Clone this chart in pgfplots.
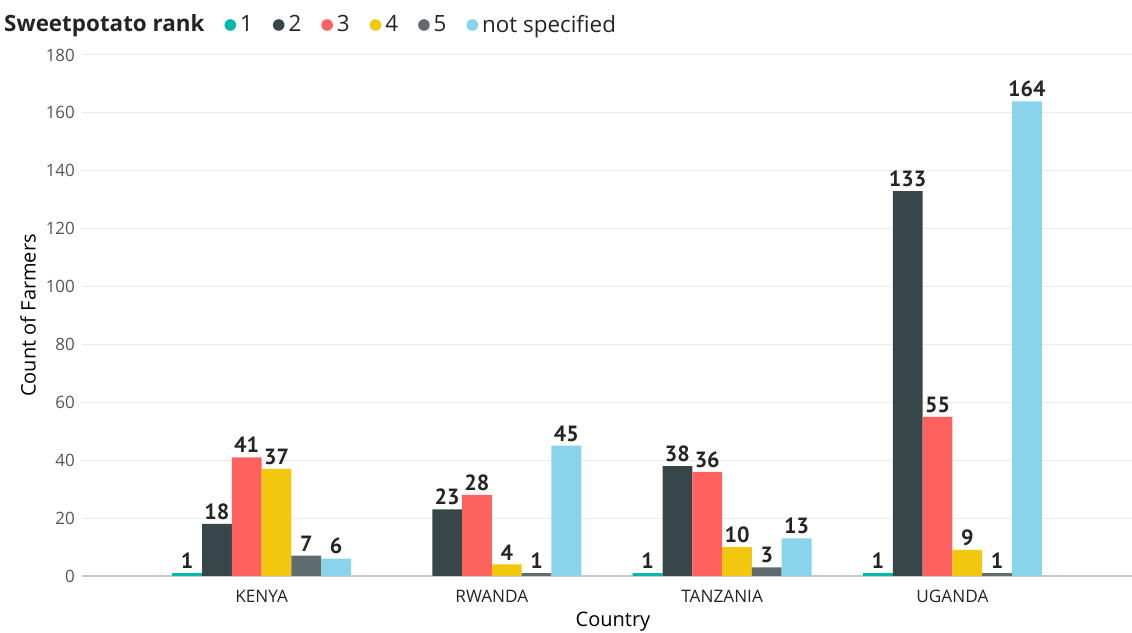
\documentclass[border=0pt]{standalone}
\usepackage{pgfplots}
\pgfplotsset{compat=1.18}
\usepackage{fontspec}
\setmainfont{Open Sans}
\newfontfamily\labelfont{PT Sans}
\definecolor{c1}{HTML}{01B8AA}
\definecolor{c2}{HTML}{374649}
\definecolor{c3}{HTML}{FD625E}
\definecolor{c4}{HTML}{F2C80F}
\definecolor{c5}{HTML}{5F6B6D}
\definecolor{c6}{HTML}{8AD4EB}
\definecolor{txt}{HTML}{252423}
\definecolor{tick}{HTML}{555555}
\begin{document}
\begin{tikzpicture}
\useasboundingbox (0,0) rectangle (566pt,316.5pt);
\begin{axis}[
  at={(41pt,28.5pt)}, anchor=south west,
  scale only axis, width=525pt, height=260.5pt,
  ybar=0pt, bar width=14.9pt,
  xmin=-0.78, xmax=3.78, ymin=0, ymax=180,
  xtick={0,1,2,3},
  xticklabels={KENYA,RWANDA,TANZANIA,UGANDA},
  ytick={20,40,...,180},
  extra y ticks={0}, extra y tick labels={0},
  extra y tick style={grid style={color=black!22, line width=0.6pt}},
  ymajorgrids, grid style={color=black!8, line width=0.5pt},
  major tick length=0pt,
  axis line style={draw=none},
  /pgf/number format/assume math mode=true,
  tick label style={font=\fontsize{8.5}{10}\selectfont},
  yticklabel style={color=tick},
  xticklabel style={color=txt, yshift=-3.5pt, font=\fontsize{8.6}{10}\selectfont},
  xlabel={Country}, ylabel={Count of Farmers},
  label style={font=\fontsize{11}{12}\selectfont, color=txt},
  every axis x label/.style={at={([yshift=-23pt,xshift=3pt]axis description cs:0.5,0)}, anchor=center},
  every axis y label/.style={at={([xshift=-27pt]axis description cs:0,0.5)}, anchor=center, rotate=90},
  nodes near coords,
  every node near coord/.append style={font=\labelfont\bfseries\fontsize{11}{12}\selectfont, color=txt, inner sep=2pt},
  legend columns=-1,
  legend style={draw=none, fill=none, at={(-0.063,1.0576)}, anchor=west, inner sep=0pt,
    font=\fontsize{11.2}{12}\selectfont, text=txt,
    /tikz/every even column/.append style={column sep=8pt}},
  legend image code/.code={\fill[#1, draw=none] (4pt,0pt) circle (2.9pt);},
]
\addlegendimage{empty legend}
\addlegendentry{\hspace{-8pt}\textbf{Sweetpotato rank}\hspace{-5pt}}
\addplot[fill=c1, draw=none] coordinates {(0,1) (2,1) (3,1)};
\addlegendentry{1}
\addplot[fill=c2, draw=none] coordinates {(0,18) (1,23) (2,38) (3,133)};
\addlegendentry{2}
\addplot[fill=c3, draw=none] coordinates {(0,41) (1,28) (2,36) (3,55)};
\addlegendentry{3}
\addplot[fill=c4, draw=none] coordinates {(0,37) (1,4) (2,10) (3,9)};
\addlegendentry{4}
\addplot[fill=c5, draw=none] coordinates {(0,7) (1,1) (2,3) (3,1)};
\addlegendentry{5}
\addplot[fill=c6, draw=none] coordinates {(0,6) (1,45) (2,13) (3,164)};
\addlegendentry{not specified}
\end{axis}
\end{tikzpicture}
\end{document}
